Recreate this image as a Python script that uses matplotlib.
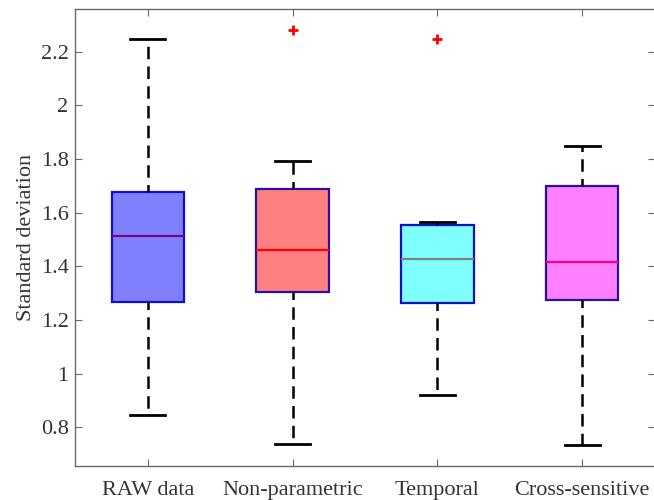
import matplotlib
matplotlib.use("Agg")
import matplotlib.pyplot as plt

# Box statistics per method
categories = ["RAW data", "Non-parametric", "Temporal", "Cross-sensitive"]
whislo = [0.847, 0.737, 0.919, 0.732]
q1 = [1.265, 1.303, 1.264, 1.274]
med = [1.513, 1.461, 1.428, 1.416]
q3 = [1.678, 1.689, 1.553, 1.701]
whishi = [2.249, 1.793, 1.565, 1.849]
fliers = [[], [2.282], [2.247], []]

face_colors = ["#8080FF", "#FF8080", "#80FFFF", "#FF80FF"]
edge_colors = ["#1010C8", "#2A10A0", "#1010C8", "#2A10A0"]
median_colors = ["#800080", "#FF0000", "#808080", "#FF0080"]

yticks = [0.8, 1.0, 1.2, 1.4, 1.6, 1.8, 2.0, 2.2]
ytick_labels = ["0.8", "1", "1.2", "1.4", "1.6", "1.8", "2", "2.2"]

plt.rcParams["font.family"] = ["Liberation Serif", "DejaVu Serif"]
plt.rcParams["font.size"] = 16

fig = plt.figure(figsize=(6.54, 5.00), dpi=100)
ax = fig.add_axes([0.1154, 0.068, 0.8855, 0.914])

stats = []
for i, name in enumerate(categories):
    stats.append(dict(label=name, whislo=whislo[i], q1=q1[i], med=med[i],
                      q3=q3[i], whishi=whishi[i], fliers=fliers[i]))

positions = list(range(1, len(categories) + 1))
bp = ax.bxp(stats, positions=positions, widths=0.5, patch_artist=True,
            showfliers=True,
            whiskerprops=dict(color="black", linewidth=1.8, linestyle=(2, (5.0, 2.9))),
            capprops=dict(color="black", linewidth=2.0),
            flierprops=dict(marker="+", markeredgecolor="red", markersize=7,
                            markeredgewidth=2.0, linestyle="none"),
            medianprops=dict(linewidth=1.6))

for i, box in enumerate(bp["boxes"]):
    box.set_facecolor(face_colors[i])
    box.set_edgecolor(edge_colors[i])
    box.set_linewidth(1.6)
for i, m in enumerate(bp["medians"]):
    m.set_color(median_colors[i])
for i, cap in enumerate(bp["caps"]):
    x = cap.get_xdata()
    c = (x[0] + x[1]) / 2
    cap.set_xdata([c - 0.12, c + 0.12])

ax.set_xlim(0.5, 4.5)
ax.set_ylim(0.655, 2.36)
ax.set_yticks(yticks)
ax.set_yticklabels(ytick_labels)
ax.set_xticks(positions)
ax.set_xticklabels(categories)
ax.set_ylabel("Standard deviation", labelpad=3, color="#333333")

axis_gray = "#6a6a6a"
for s in ax.spines.values():
    s.set_color(axis_gray)
    s.set_linewidth(1.0)
ax.tick_params(direction="in", length=5, width=0.8, color=axis_gray,
               top=True, right=True, labelcolor="#333333")
ax.tick_params(axis="x", pad=11)
ax.tick_params(axis="y", pad=5)

fig.savefig("out.png", dpi=100)
